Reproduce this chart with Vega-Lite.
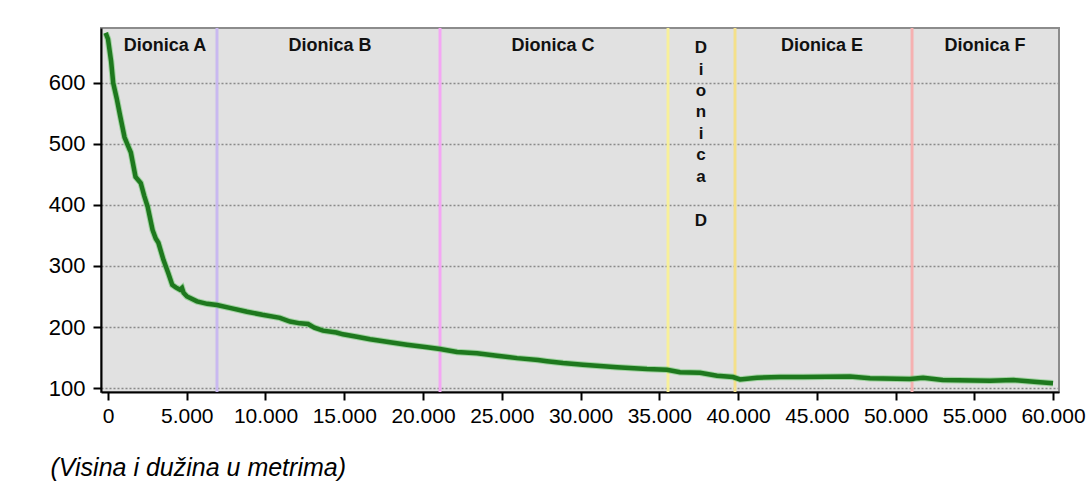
{
  "$schema": "https://vega.github.io/schema/vega-lite/v6.json",
  "width": 958,
  "height": 364,
  "autosize": {"type": "none"},
  "padding": {"left": 101, "top": 28, "right": 27, "bottom": 101},
  "background": "white",
  "config": {
    "view": {"fill": "#e1e1e1", "stroke": "#8c8c8c", "strokeWidth": 2},
    "font": "Liberation Sans"
  },
  "datasets": {
    "profile": [
      {"x": -150, "y": 682}, {"x": 0, "y": 672}, {"x": 200, "y": 635}, {"x": 330, "y": 600},
      {"x": 550, "y": 575}, {"x": 780, "y": 545}, {"x": 1050, "y": 511}, {"x": 1270, "y": 497},
      {"x": 1450, "y": 486}, {"x": 1750, "y": 446}, {"x": 2080, "y": 436}, {"x": 2300, "y": 415},
      {"x": 2520, "y": 397}, {"x": 2830, "y": 359}, {"x": 3030, "y": 345}, {"x": 3200, "y": 338},
      {"x": 3520, "y": 310}, {"x": 3830, "y": 288}, {"x": 4080, "y": 269}, {"x": 4300, "y": 265},
      {"x": 4571, "y": 261}, {"x": 4700, "y": 264}, {"x": 4800, "y": 256}, {"x": 5016, "y": 250},
      {"x": 5650, "y": 242}, {"x": 6300, "y": 238}, {"x": 6920, "y": 236}, {"x": 7800, "y": 231},
      {"x": 8825, "y": 225}, {"x": 9800, "y": 220}, {"x": 10920, "y": 215}, {"x": 11556, "y": 209},
      {"x": 12190, "y": 206}, {"x": 12700, "y": 205}, {"x": 13100, "y": 199}, {"x": 13650, "y": 194},
      {"x": 14500, "y": 191}, {"x": 14920, "y": 188}, {"x": 15800, "y": 184}, {"x": 16640, "y": 180},
      {"x": 17900, "y": 175}, {"x": 18980, "y": 171}, {"x": 20250, "y": 167}, {"x": 21080, "y": 164},
      {"x": 22160, "y": 159}, {"x": 23430, "y": 157}, {"x": 24700, "y": 153}, {"x": 25970, "y": 149},
      {"x": 27300, "y": 146}, {"x": 27870, "y": 144}, {"x": 28890, "y": 141}, {"x": 30160, "y": 138},
      {"x": 32320, "y": 134}, {"x": 34220, "y": 131}, {"x": 35490, "y": 130}, {"x": 36320, "y": 126},
      {"x": 37590, "y": 125}, {"x": 38670, "y": 120}, {"x": 39680, "y": 118}, {"x": 40130, "y": 114},
      {"x": 41200, "y": 117}, {"x": 42670, "y": 118}, {"x": 44130, "y": 118}, {"x": 47110, "y": 119},
      {"x": 48380, "y": 116}, {"x": 50920, "y": 115}, {"x": 51750, "y": 117}, {"x": 53000, "y": 113},
      {"x": 56000, "y": 112}, {"x": 57500, "y": 113}, {"x": 58980, "y": 110}, {"x": 60000, "y": 108}
    ],
    "bounds": [
      {"x": 6920, "section": "AB"},
      {"x": 21080, "section": "BC"},
      {"x": 35556, "section": "CD"},
      {"x": 39810, "section": "DE"},
      {"x": 51050, "section": "EF"}
    ],
    "labels": [
      {"x": 3620, "y": 660, "label": "Dionica A"},
      {"x": 14100, "y": 660, "label": "Dionica B"},
      {"x": 28250, "y": 660, "label": "Dionica C"},
      {"x": 45330, "y": 660, "label": "Dionica E"},
      {"x": 55680, "y": 660, "label": "Dionica F"}
    ],
    "vlabel": [
      {"x": 37650, "y": 670, "label": "D\ni\no\nn\ni\nc\na"},
      {"x": 37650, "y": 387, "label": "D"}
    ]
  },
  "layer": [
    {
      "data": {"name": "bounds"},
      "mark": {"type": "rule", "strokeWidth": 4, "opacity": 0.45},
      "encoding": {
        "x": {"field": "x", "type": "quantitative", "scale": {"domain": [-444, 60380], "nice": false, "zero": false},
          "axis": {
            "values": [0, 5000, 10000, 15000, 20000, 25000, 30000, 35000, 40000, 45000, 50000, 55000, 60000],
            "labelExpr": "replace(format(datum.value, ','), ',', '.')",
            "labelFont": "Liberation Sans",
            "labelFontSize": 21,
            "labelColor": "black",
            "labelPadding": 5,
            "labelFlush": false,
            "labelOverlap": false,
            "tickColor": "black",
            "tickSize": 8,
            "tickWidth": 2,
            "domainColor": "black",
            "domainWidth": 2,
            "grid": false,
            "title": "(Visina i dužina u metrima)",
            "titleFont": "Liberation Sans",
            "titleFontSize": 25,
            "titleFontStyle": "italic",
            "titleFontWeight": "normal",
            "titleColor": "black",
            "titleAnchor": "start",
            "titleAlign": "left",
            "titleBaseline": "alphabetic",
            "titleX": -51,
            "titleY": 83
          }
        },
        "color": {"field": "section", "type": "nominal", "legend": null,
          "scale": {"domain": ["AB", "BC", "CD", "DE", "EF"], "range": ["#c9b8f0", "#f4a6f4", "#f8f09a", "#f4e08a", "#f6b0b0"]}}
      }
    },
    {
      "data": {"name": "bounds"},
      "mark": {"type": "rule", "strokeWidth": 2},
      "encoding": {
        "x": {"field": "x", "type": "quantitative"},
        "color": {"field": "section", "type": "nominal", "legend": null,
          "scale": {"domain": ["AB", "BC", "CD", "DE", "EF"], "range": ["#7858c4", "#d038d0", "#f0e060", "#e8c044", "#dc2828"]}}
      }
    },
    {
      "data": {"name": "profile"},
      "mark": {"type": "line", "color": "#6cc86c", "strokeWidth": 6.5, "opacity": 0.55, "clip": true},
      "encoding": {
        "x": {"field": "x", "type": "quantitative"},
        "y": {"field": "y", "type": "quantitative", "scale": {"domain": [93.5, 690], "nice": false, "zero": false},
          "axis": {
            "values": [100, 200, 300, 400, 500, 600],
            "labelFontSize": 22,
            "labelColor": "black",
            "labelPadding": 8,
            "tickColor": "black",
            "tickSize": 8,
            "tickWidth": 2,
            "domainColor": "black",
            "domainWidth": 2,
            "grid": true,
            "gridColor": "#8a8a8a",
            "gridDash": [2, 2],
            "gridWidth": 1.5,
            "title": null
          }
        }
      }
    },
    {
      "data": {"name": "profile"},
      "mark": {"type": "line", "color": "#1e781e", "strokeWidth": 4.5, "clip": true},
      "encoding": {
        "x": {"field": "x", "type": "quantitative"},
        "y": {"field": "y", "type": "quantitative"}
      }
    },
    {
      "data": {"name": "labels"},
      "mark": {"type": "text", "font": "Liberation Sans", "fontWeight": "bold", "fontSize": 18, "color": "#111111", "baseline": "middle", "align": "center"},
      "encoding": {
        "x": {"field": "x", "type": "quantitative"},
        "y": {"field": "y", "type": "quantitative"},
        "text": {"field": "label"}
      }
    },
    {
      "data": {"name": "vlabel"},
      "mark": {"type": "text", "font": "Liberation Sans", "fontWeight": "bold", "fontSize": 17, "color": "#111111", "baseline": "top", "align": "center", "lineBreak": "\n", "lineHeight": 21.4},
      "encoding": {
        "x": {"field": "x", "type": "quantitative"},
        "y": {"field": "y", "type": "quantitative"},
        "text": {"field": "label"}
      }
    }
  ]
}
